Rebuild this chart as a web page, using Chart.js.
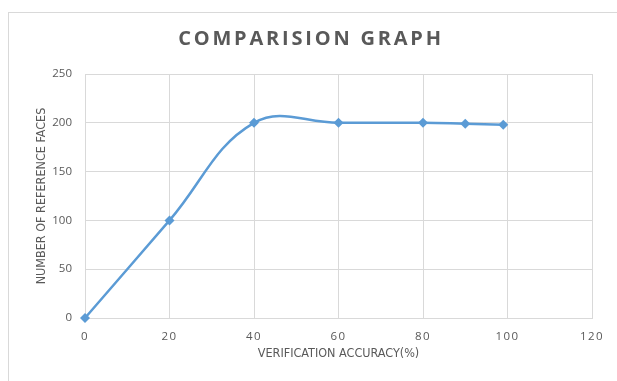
<!DOCTYPE html>
<html>
<head>
<meta charset="utf-8">
<script src="https://cdn.jsdelivr.net/npm/chart.js@4"></script>
<style>
    body { margin: 0; background: #fff; }
    #wrap { position: relative; width: 617px; height: 381px; }
    #frame { position: absolute; left: 8px; top: 12px; width: 640px; height: 400px; border: 1px solid #d9d9d9; }
    canvas { position: absolute; left: 0; top: 0; }
</style>
</head>
<body>
<div id="wrap">
    <div id="frame"></div>
    <canvas id="chart" width="617" height="381"></canvas>
</div>
<script>
// values
const ACCURACY = [0, 20, 40, 60, 80, 90, 99];
const REF_FACES = [0, 100, 200, 200, 200, 199, 198];
const X_TICKS = [0, 20, 40, 60, 80, 100, 120];
const Y_TICKS = [0, 50, 100, 150, 200, 250];

const TEXT_GREY = '#595959';
const GRID_GREY = '#d9d9d9';
const LINE_BLUE = '#5b9bd5';
const AXIS_FONT = "'DejaVu Sans Condensed', Roboto, sans-serif";

const points = ACCURACY.map((x, i) => ({ x: x, y: REF_FACES[i] }));

// canvas text has no css letter-spacing, so wrap the draw of the title and x labels
function withSpacing(obj, method, spacing) {
    if (!obj || obj['_spaced_' + method]) return;
    const orig = obj[method].bind(obj);
    obj[method] = (...args) => {
        const ctx = obj.ctx;
        ctx.save();
        ctx.letterSpacing = spacing;
        orig(...args);
        ctx.restore();
    };
    obj['_spaced_' + method] = true;
}

const spacingPlugin = {
    id: 'spacing',
    beforeDraw(chart) {
        withSpacing(chart.titleBlock, 'draw', '2.8px');
        withSpacing(chart.scales.x, 'drawLabels', '1.5px');
    }
};

new Chart(document.getElementById('chart'), {
    type: 'line',
    data: {
        datasets: [{
            label: 'Reference faces',
            data: points,
            borderColor: LINE_BLUE,
            backgroundColor: LINE_BLUE,
            borderWidth: 2.5,
            tension: 0.4,
            pointStyle: 'rectRot',
            pointRadius: 5,
            pointBorderWidth: 0,
            clip: false
        }]
    },
    options: {
        responsive: false,
        animation: false,
        layout: { padding: { left: 30, right: 25, top: 0, bottom: 16 } },
        plugins: {
            legend: { display: false },
            tooltip: { enabled: false },
            title: {
                display: true,
                text: 'COMPARISION GRAPH',
                color: TEXT_GREY,
                font: { family: 'Open Sans', size: 20, weight: 'bold' },
                padding: { top: 27.5, bottom: 22.5 }
            }
        },
        scales: {
            x: {
                type: 'linear',
                min: X_TICKS[0],
                max: X_TICKS[X_TICKS.length - 1],
                afterBuildTicks: axis => { axis.ticks = X_TICKS.map(v => ({ value: v })); },
                afterFit: axis => { axis.height = 47; },
                grid: { color: GRID_GREY, drawTicks: false },
                border: { color: GRID_GREY },
                ticks: { color: TEXT_GREY, padding: 12, font: { family: 'Open Sans', size: 11.5 } },
                title: {
                    display: true,
                    text: 'VERIFICATION ACCURACY(%)',
                    color: TEXT_GREY,
                    font: { family: AXIS_FONT, size: 12.5 }
                }
            },
            y: {
                min: Y_TICKS[0],
                max: Y_TICKS[Y_TICKS.length - 1],
                afterBuildTicks: axis => { axis.ticks = Y_TICKS.map(v => ({ value: v })); },
                afterFit: axis => { axis.width = 55; },
                grid: { color: GRID_GREY, drawTicks: false },
                border: { color: GRID_GREY },
                ticks: { color: TEXT_GREY, padding: 13, font: { family: 'Open Sans', size: 11.5 } },
                title: {
                    display: true,
                    text: 'NUMBER OF REFERENCE FACES',
                    color: TEXT_GREY,
                    font: { family: AXIS_FONT, size: 12.5 }
                }
            }
        }
    },
    plugins: [spacingPlugin]
});
</script>
</body>
</html>
